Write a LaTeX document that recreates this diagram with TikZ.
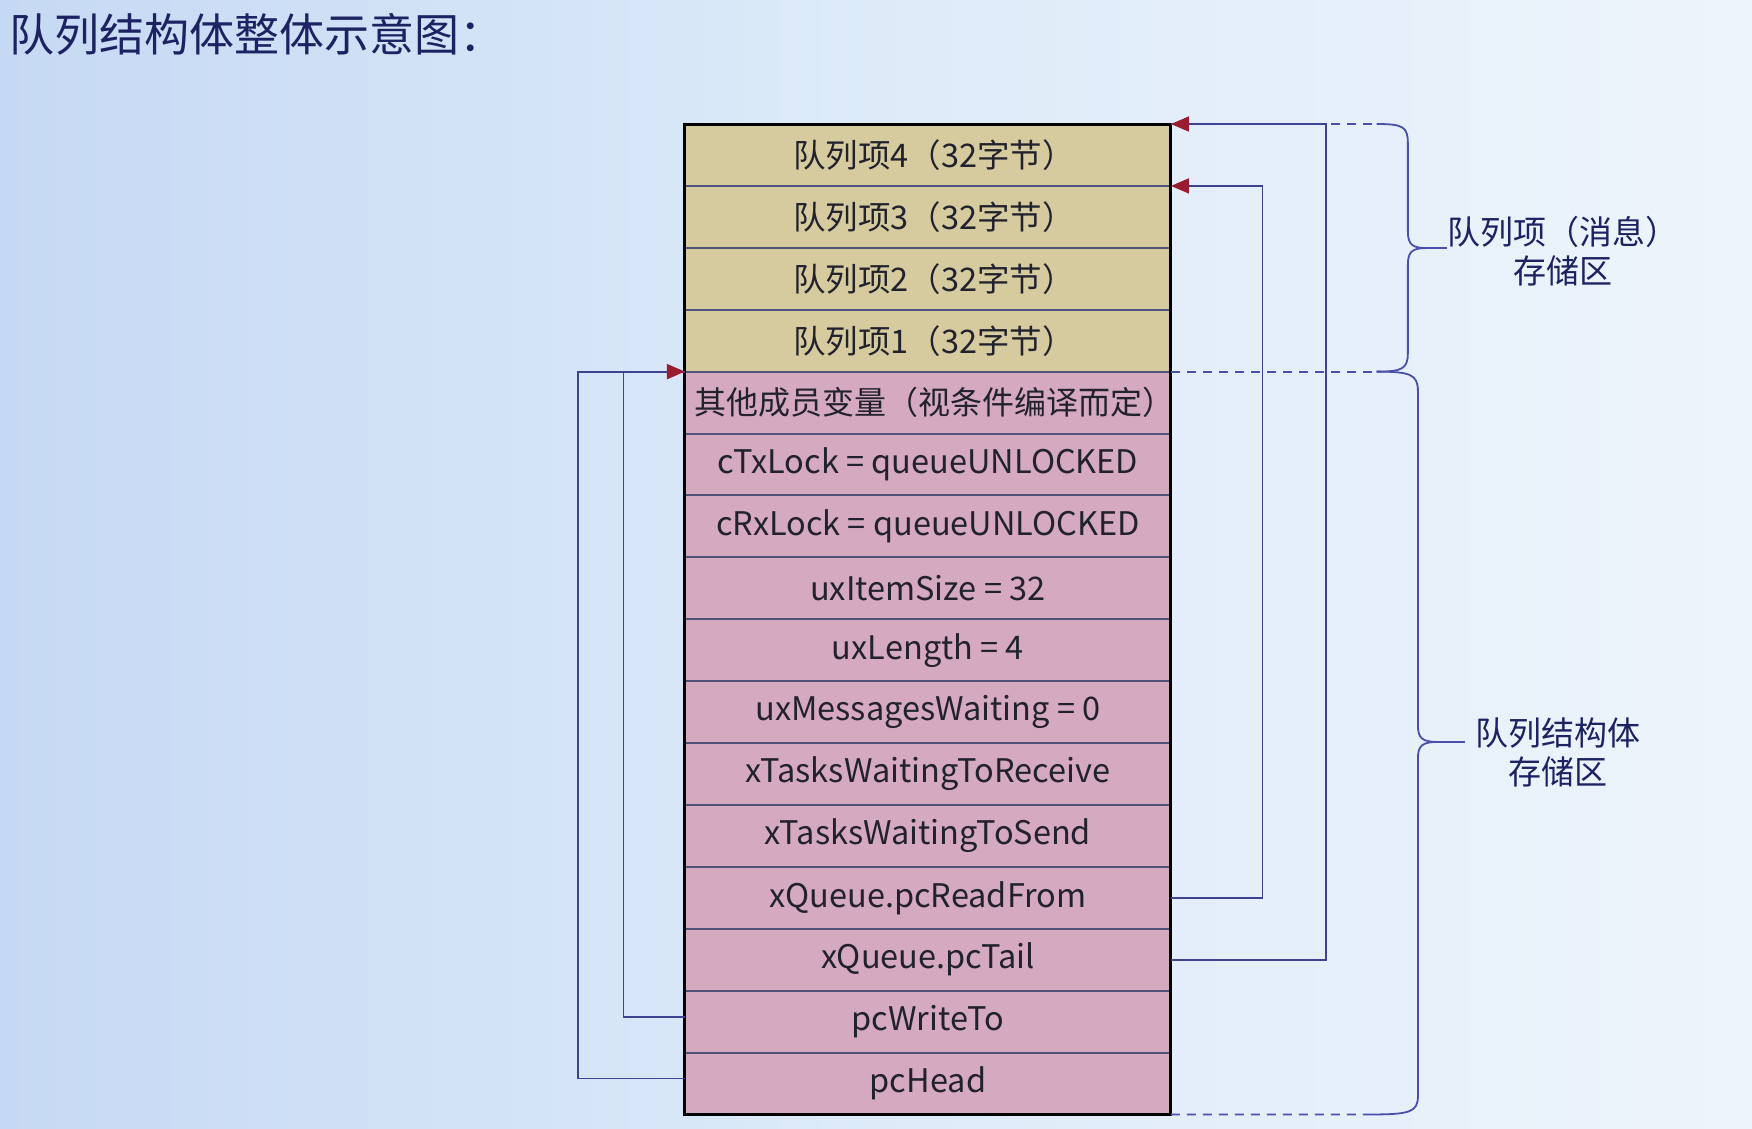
\documentclass[tikz,border=0pt]{standalone}
\usepackage{fontspec}
\setmainfont{Noto Sans CJK SC}
\usetikzlibrary{arrows.meta}
\definecolor{bgL}{HTML}{C6D9F4}
\definecolor{bgM}{HTML}{DDEBF9}
\definecolor{bgR}{HTML}{EEF4FB}
\definecolor{cellY}{HTML}{D6CB9E}
\definecolor{cellP}{HTML}{D5A9BF}
\definecolor{sepc}{HTML}{50547A}
\definecolor{navy}{HTML}{3D4291}
\definecolor{bracec}{HTML}{4A50A8}
\definecolor{arrowred}{HTML}{9B1B30}
\definecolor{titlec}{HTML}{1C2262}
\definecolor{textc}{HTML}{22222E}
\tikzset{
  cellbase/.style={draw=sepc, line width=2pt, minimum width=486pt, minimum height=61.9pt,
    inner sep=0pt, outer sep=0pt, anchor=north west, text=textc,
    font=\fontsize{32.5}{38}\selectfont},
  ycell/.style={cellbase, fill=cellY},
  pcell/.style={cellbase, fill=cellP},
  conn/.style={draw=navy, line width=1.8pt},
  conntip/.style={-{Triangle[length=18pt,width=15pt,color=arrowred]}},
  guide/.style={draw=bracec, line width=1.8pt, dash pattern=on 9pt off 7pt},
  bracepath/.style={draw=bracec, line width=1.8pt},
  lbl/.style={align=center, text=titlec, font=\fontsize{33}{39}\selectfont, inner sep=0pt},
}
\newcommand{\qitem}[1]{\hspace*{12pt}队列项#1（32字节）}
\begin{document}
\begin{tikzpicture}[x=1.1173pt,y=-1.1173pt]
\shade[left color=bgL, right color=bgR, middle color=bgM] (0,0) rectangle (1568,1010);
\useasboundingbox (0,0) rectangle (1568,1010);
\node[anchor=west, text=titlec, font=\fontsize{45}{54}\selectfont, inner sep=0pt] (title) at (8,31) {队列结构体整体示意图：};
% queue items
\node[ycell] (r1) at (613,111.0) {\qitem{4}};
\node[ycell] (r2) at (613,166.4) {\qitem{3}};
\node[ycell] (r3) at (613,221.8) {\qitem{2}};
\node[ycell] (r4) at (613,277.2) {\qitem{1}};
% structure members
\node[pcell] (r5) at (613,332.6) {\makebox[486pt][l]{\hspace*{10pt}\fontsize{32}{38}\selectfont 其他成员变量（视条件编译而定）}};
\node[pcell] (r6) at (613,388.0) {cTxLock = queueUNLOCKED};
\node[pcell] (r7) at (613,443.4) {cRxLock = queueUNLOCKED};
\node[pcell] (r8) at (613,498.8) {uxItemSize = 32};
\node[pcell] (r9) at (613,554.2) {uxLength = 4};
\node[pcell] (r10) at (613,609.6) {uxMessagesWaiting = 0};
\node[pcell] (r11) at (613,665.0) {xTasksWaitingToReceive};
\node[pcell] (r12) at (613,720.4) {xTasksWaitingToSend};
\node[pcell] (r13) at (613,775.8) {xQueue.pcReadFrom};
\node[pcell] (r14) at (613,831.2) {xQueue.pcTail};
\node[pcell] (r15) at (613,886.6) {pcWriteTo};
\node[pcell] (r16) at (613,942.0) {pcHead};
\draw[line width=3pt] (r1.north west) rectangle (r16.south east);
% guide dashed lines
\draw[guide] (r1.north east) -- (1232,111);
\draw[guide] (r5.north east) -- (1232,332.6);
\draw[guide] (r16.south east) -- (1228,997.4);
% connectors
\draw[conn, conntip] (r13.east) -- ++(82,0) |- (r2.north east);
\draw[conn, conntip] (r14.east) -- ++(139,0) |- (r1.north east);
\draw[conn] ([yshift=5pt]r16.west) -- ++(-96,0) |- (r5.north west);
\draw[conn, conntip] ([yshift=5pt]r15.west) -- ++(-55,0) |- (r5.north west);
% braces
\coordinate (b1tip) at (1277,222);
\coordinate (b2tip) at (1287,664);
\draw[bracepath] (1232,111) .. controls (1255,111) and (1260,113) .. (1260,128) -- (1260,207)
  .. controls (1260,219) and (1264,222) .. (b1tip) -- (1295,222);
\draw[bracepath] (b1tip) .. controls (1264,222) and (1260,225) .. (1260,237) -- (1260,316)
  .. controls (1260,330) and (1255,332.6) .. (1232,332.6);
\draw[bracepath] (1232,332.6) .. controls (1262,332.6) and (1269,335) .. (1269,350) -- (1269,649)
  .. controls (1269,661) and (1273,664) .. (b2tip) -- (1311,664);
\draw[bracepath] (b2tip) .. controls (1273,664) and (1269,667) .. (1269,679) -- (1269,981)
  .. controls (1269,995) and (1262,997.4) .. (1228,997.4);
% labels
\node[lbl] (lab1) at (1399,225) {队列项（消息）\\存储区};
\node[lbl] (lab2) at (1394,673) {队列结构体\\存储区};
\end{tikzpicture}
\end{document}
